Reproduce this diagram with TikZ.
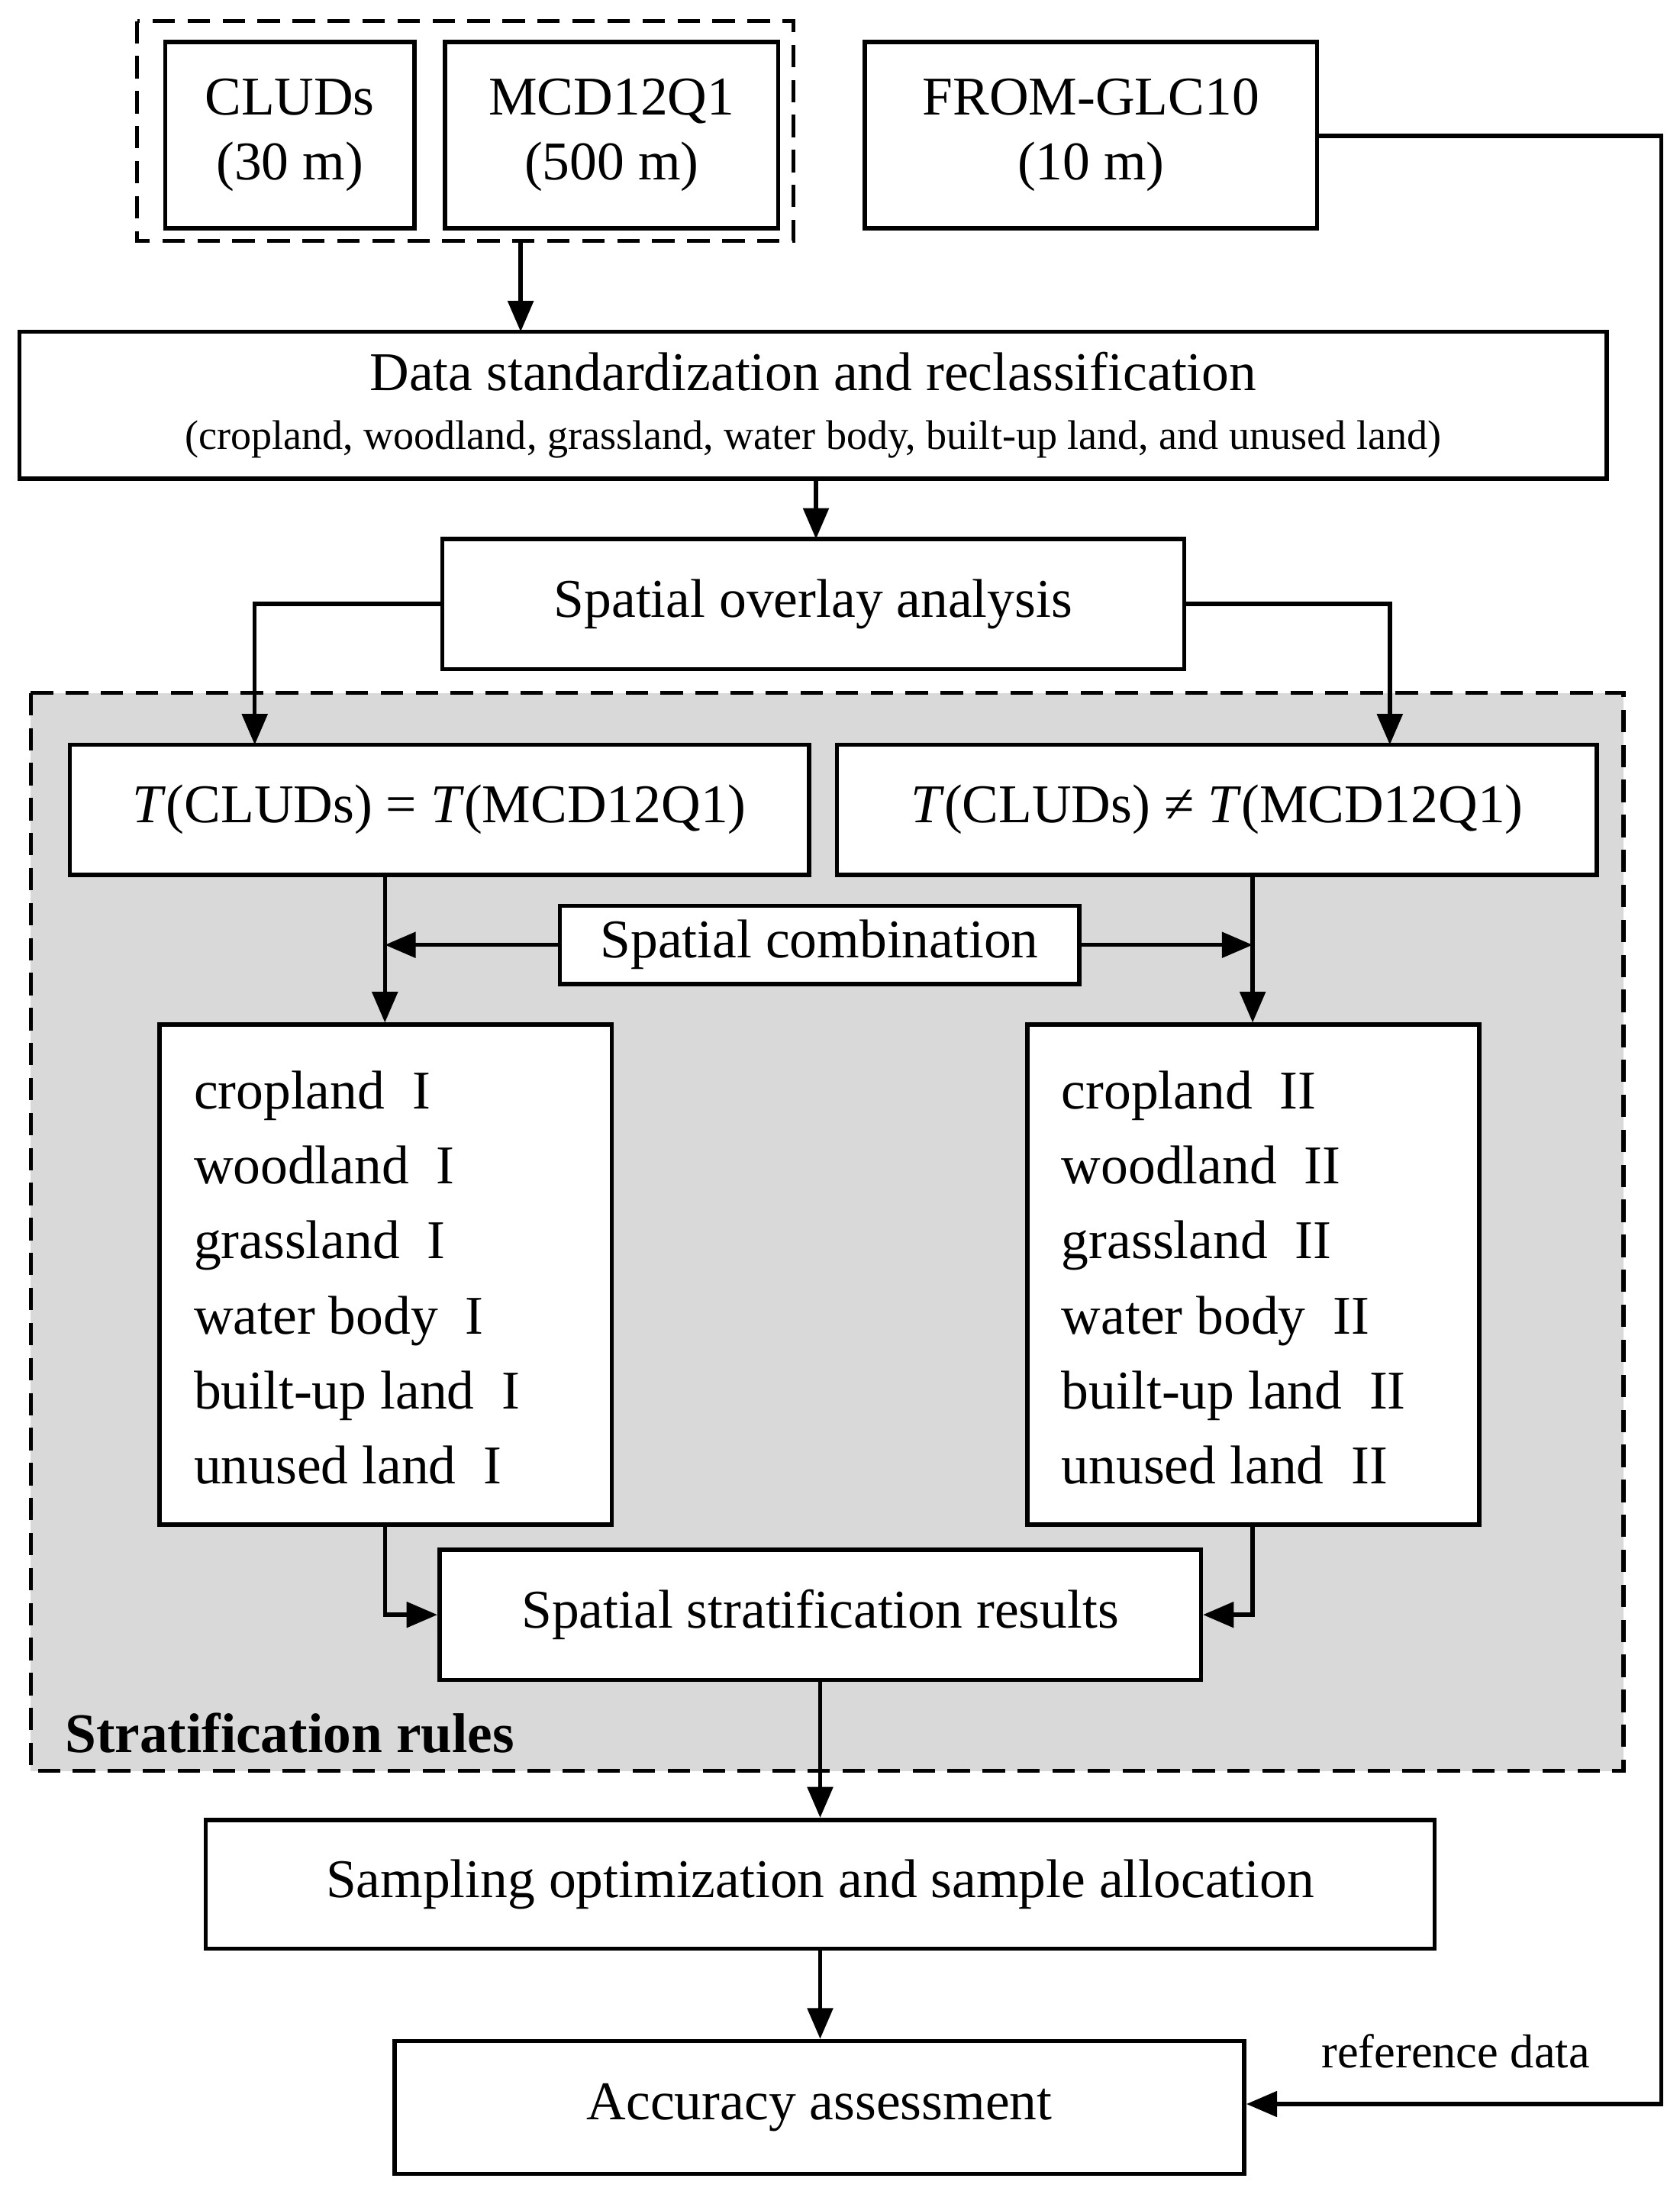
\documentclass[tikz,border=0pt]{standalone}
\usepackage{fontspec}
\setmainfont{Liberation Serif}
\usetikzlibrary{arrows.meta}
\begin{document}
\begin{tikzpicture}[x=1pt,y=-1pt,
  bx/.style={draw,line width=3pt,align=center,inner sep=0pt,font=\fontsize{39}{46}\selectfont},
  ar/.style={line width=3pt,-{Triangle[length=22pt,width=18pt]}},
  ln/.style={line width=3pt}]
\useasboundingbox (0,0) rectangle (1200,1563);
\fill[gray!30] (22,495) rectangle (1160,1265);
\draw[line width=3pt,dash pattern=on 16pt off 9pt] (22,495) rectangle (1160,1265);
\draw[line width=3pt,dash pattern=on 16pt off 9pt] (98,15) rectangle (567,172);
\node[bx,minimum width=178pt,minimum height=133pt] (clud) at (207,96.5) {CLUDs\\(30 m)};
\node[bx,minimum width=238pt,minimum height=133pt] (mcd) at (437,96.5) {MCD12Q1\\(500 m)};
\node[bx,minimum width=323pt,minimum height=133pt] (from) at (779.5,96.5) {FROM-GLC10\\(10 m)};
\coordinate (dtop) at (372,172);
\node[bx,fill=white,minimum width=1134pt,minimum height=105pt] (data) at (581,289.5) {Data standardization and reclassification\\[-4pt]{\fontsize{29.5}{34}\selectfont(cropland, woodland, grassland, water body, built-up land, and unused land)}};
\draw[ar] (dtop) -- (372,237);
\node[bx,fill=white,minimum width=530pt,minimum height=93pt] (ov) at (581,431.5) {Spatial overlay analysis};
\draw[ar] (583,342) -- (583,385);
\node[bx,fill=white,minimum width=528pt,minimum height=93pt] (teq) at (314,578.5) {\textit{T}(CLUDs) = \textit{T}(MCD12Q1)};
\node[bx,fill=white,minimum width=543pt,minimum height=93pt] (tne) at (869.5,578.5) {\textit{T}(CLUDs) ≠ \textit{T}(MCD12Q1)};
\draw[ar] (ov.west) -- (182,431.5) -- (182,532);
\draw[ar] (ov.east) -- (993,431.5) -- (993,532);
\node[bx,fill=white,minimum width=371pt,minimum height=56pt] (comb) at (585.5,675) {Spatial combination};
\node[bx,fill=white,minimum width=323pt,minimum height=357pt] (l1) at (275.5,910.5) {};
\node[bx,fill=white,minimum width=323pt,minimum height=357pt] (l2) at (895.5,910.5) {};
\foreach \t [count=\i] in {cropland,woodland,grassland,water body,built-up land,unused land}{
  \node[anchor=base west,font=\fontsize{39}{46}\selectfont] at (135,780+53.6*\i-53.6+12) {\t\ \ I};
  \node[anchor=base west,font=\fontsize{39}{46}\selectfont] at (755,780+53.6*\i-53.6+12) {\t\ \ II};
}
\draw[ar] (275,625) -- (l1.north-|275,0);
\draw[ar] (895,625) -- (l2.north-|895,0);
\draw[ar] (comb.west) -- (275,675);
\draw[ar] (comb.east) -- (895,675);
\node[bx,fill=white,minimum width=544pt,minimum height=93pt] (res) at (586,1153.5) {Spatial stratification results};
\draw[ar] (275,1089) -- (275,1153.5) -- (res.west);
\draw[ar] (895,1089) -- (895,1153.5) -- (res.east);
\node[anchor=base west,font=\fontsize{40}{46}\selectfont\bfseries] (sr) at (43,1252) {Stratification rules};
\node[bx,minimum width=878pt,minimum height=92pt] (samp) at (586,1346) {Sampling optimization and sample allocation};
\draw[ar] (res.south-|586,0) -- (samp.north);
\node[bx,minimum width=607pt,minimum height=95pt] (acc) at (585.5,1505.5) {Accuracy assessment};
\draw[ar] (samp.south-|586,0) -- (acc.north-|586,0);
\draw[ar] (from.east|-0,97) -- (1187,97) -- (1187,1503) -- (acc.east|-0,1503);
\node[anchor=base,font=\fontsize{34}{40}\selectfont] (rd) at (1040,1477) {reference data};
\end{tikzpicture}
\end{document}
